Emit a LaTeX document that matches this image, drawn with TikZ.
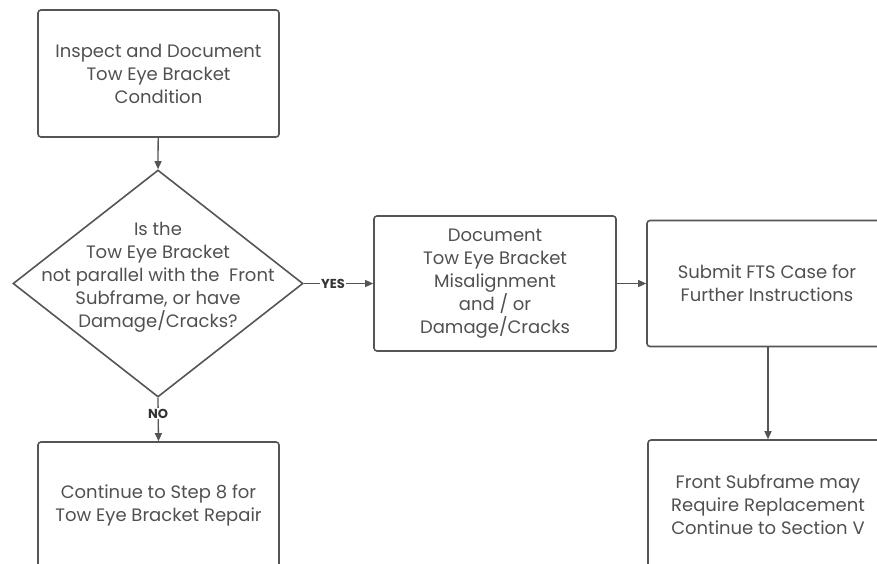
\documentclass[tikz,border=0pt]{standalone}
\usepackage{fontspec}
\setmainfont{Poppins}
\usetikzlibrary{shapes.geometric,arrows.meta}
\definecolor{edge}{HTML}{555555}
\definecolor{txtc}{HTML}{505050}
\begin{document}
\begin{tikzpicture}[x=1pt,y=-1pt,
  box/.style={draw=edge, line width=1.6pt, rounded corners=3pt, inner sep=0pt, align=center,
    text=txtc, font=\fontsize{18}{23}\selectfont},
  txt/.style={align=center, text=txtc, inner sep=0pt, font=\fontsize{18}{23}\selectfont},
  conn/.style={draw=edge, line width=1.3pt, -{Triangle[length=8pt,width=7pt]}},
  lab/.style={fill=white, inner sep=1pt, text=black!80, font=\fontsize{13}{14}\selectfont\bfseries}]
\useasboundingbox (0,0) rectangle (877,563);
\clip (0,0) rectangle (877,563);
\node[box, minimum width=241, minimum height=127] (b1) at (158.5,73.5) {Inspect and Document\\Tow Eye Bracket\\Condition};
\node[diamond, draw=edge, line width=1.6pt, minimum width=290, minimum height=227, inner sep=0pt] (d) at (158,283.5) {};
\node[txt] (dt) at (158,277) {Is the\\Tow Eye Bracket\\not parallel with the\ \ Front\\Subframe, or have\\Damage/Cracks?};
\node[box, minimum width=242, minimum height=135] (b2) at (495,283.5) {Document\\Tow Eye Bracket\\Misalignment\\and / or\\Damage/Cracks};
\node[box, minimum width=240, minimum height=126] (b3) at (767,283.5) {Submit FTS Case for\\Further Instructions};
\node[box, minimum width=240, minimum height=130] (b4) at (768,505) {Front Subframe may\\Require Replacement\\Continue to Section V};
\node[box, minimum width=241, minimum height=126] (b5) at (158.5,505) {Continue to Step 8 for\\Tow Eye Bracket Repair};
\draw[conn] (b1) -- (d.north);
\draw[conn] (d.east) -- node[lab, pos=0.42] (yes) {YES} (b2.west);
\draw[conn] (d.south) -- node[lab, pos=0.36] (no) {NO} (b5.north);
\draw[conn] (b2.east) -- (b3.west);
\draw[conn] (b3.south -| b4.north) -- (b4.north);
\end{tikzpicture}
\end{document}
